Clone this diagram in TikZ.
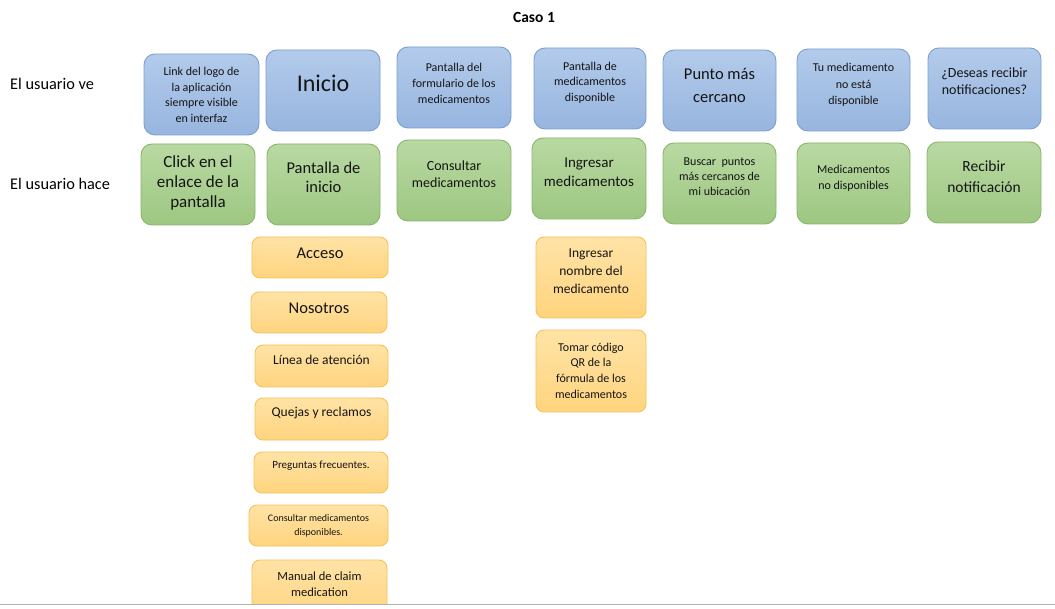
\documentclass[tikz,border=0pt]{standalone}
\usepackage{fontspec}
\setmainfont{Carlito}
\definecolor{bluetop}{HTML}{B3CBEB}
\definecolor{bluebot}{HTML}{97B5DF}
\definecolor{blueline}{HTML}{7A9FD0}
\definecolor{greentop}{HTML}{B9D9A3}
\definecolor{greenbot}{HTML}{9DC781}
\definecolor{greenline}{HTML}{8AB56C}
\definecolor{orangetop}{HTML}{FFE3A6}
\definecolor{orangebot}{HTML}{FFD47E}
\definecolor{orangeline}{HTML}{F5C25A}
\newcommand\fs[2]{\fontsize{#1}{#2}\selectfont}
\tikzset{
  boxbase/.style={inner sep=0pt, outer sep=0pt, line width=0.9pt},
  bluebox/.style={boxbase, rounded corners=11pt, draw=blueline, top color=bluetop, bottom color=bluebot},
  greenbox/.style={boxbase, rounded corners=11pt, draw=greenline, top color=greentop, bottom color=greenbot},
  orangebox/.style={boxbase, rounded corners=8pt, draw=orangeline, top color=orangetop, bottom color=orangebot},
  boxtext/.style={inner sep=0pt, align=center, text=black!92},
}
% #1 style, #2 name, #3 x1, #4 y1, #5 x2, #6 y2, #7 text centre y, #8 font, #9 text
\newcommand\bx[9]{%
  \node[#1, minimum width={(#5-#3)*1pt}, minimum height={(#6-#4)*1pt}] (#2) at ({(#3+#5)/2},{(#4+#6)/2}) {};
  \node[boxtext, font=#8] (#2t) at ({(#3+#5)/2},#7) {#9};
}
\begin{document}
\begin{tikzpicture}[x=1pt,y=-1pt]
\useasboundingbox (0,0) rectangle (1055,609);
\fill[white] (0,0) rectangle (1055,609);

\node[font=\fs{15.5}{18}\bfseries] (title) at (534,17) {Caso 1};
\node[anchor=west, inner sep=0pt, font=\fs{16.3}{19}] (lve) at (10,84) {El usuario ve};
\node[anchor=west, inner sep=0pt, font=\fs{16.3}{19}] (lhace) at (10,184) {El usuario hace};

% row 1
\bx{bluebox}{b1}{144}{54}{259}{135}{95}{\fs{12}{15.5}}{Link del logo de\\la aplicación\\siempre visible\\en interfaz}
\bx{bluebox}{b2}{266}{50}{380}{131}{83}{\fs{24}{27}}{Inicio}
\bx{bluebox}{b3}{397}{47}{511}{128}{83}{\fs{12}{16}}{Pantalla del\\formulario de los\\medicamentos}
\bx{bluebox}{b4}{534}{48}{646}{129}{82.5}{\fs{12}{15.5}}{Pantalla de\\medicamentos\\disponible}
\bx{bluebox}{b5}{663}{50}{776}{131}{85}{\fs{16.5}{23}}{Punto más\\cercano}
\bx{bluebox}{b6}{797}{49}{910}{131}{85}{\fs{12}{16.5}}{Tu medicamento\\no está\\disponible}
\bx{bluebox}{b7}{928}{48}{1041}{129}{81.5}{\fs{14}{17}}{¿Deseas recibir\\notificaciones?}

% row 2
\bx{greenbox}{g1}{141}{144}{255}{225}{183}{\fs{17}{20}}{Click en el\\enlace de la\\pantalla}
\bx{greenbox}{g2}{267}{144}{380}{225}{177.5}{\fs{16.5}{19.5}}{Pantalla de\\inicio}
\bx{greenbox}{g3}{397}{140}{511}{221}{174}{\fs{14}{16.5}}{Consultar\\medicamentos}
\bx{greenbox}{g4}{532}{138}{646}{219}{172.5}{\fs{15}{19}}{Ingresar\\medicamentos}
\bx{greenbox}{g5}{663}{143}{776}{224}{177}{\fs{12}{15}}{Buscar\ \ puntos\\más cercanos de\\mi ubicación}
\bx{greenbox}{g6}{797}{143}{910}{224}{178}{\fs{12}{15.7}}{Medicamentos\\no disponibles}
\bx{greenbox}{g7}{927}{142}{1041}{223}{176.5}{\fs{15.5}{20.5}}{Recibir\\notificación}

% orange column 1
\begin{scope}
\clip (0,0) rectangle (1055,603);
\bx{orangebox}{o1}{252}{237}{388}{278}{253}{\fs{16.5}{19}}{Acceso}
\bx{orangebox}{o2}{251}{292}{387}{333}{308}{\fs{16.5}{19}}{Nosotros}
\bx{orangebox}{o3}{255}{345}{388}{387}{360}{\fs{13.5}{16}}{Línea de atención}
\bx{orangebox}{o4}{255}{398}{388}{440}{413}{\fs{13.5}{16}}{Quejas y reclamos}
\bx{orangebox}{o5}{254}{452}{388}{493}{466}{\fs{11}{13}}{Preguntas frecuentes.}
\bx{orangebox}{o6}{249}{505}{388}{546}{526}{\fs{10}{14}}{Consultar medicamentos\\disponibles.}
\bx{orangebox}{o7}{252}{560}{387}{620}{584}{\fs{12.5}{16}}{Manual de claim\\medication}
\end{scope}

% orange column 2
\bx{orangebox}{p1}{536}{237}{646}{318}{271}{\fs{13.5}{17.8}}{Ingresar\\nombre del\\medicamento}
\bx{orangebox}{p2}{536}{330}{646}{412}{370.5}{\fs{12}{15.7}}{Tomar código\\QR de la\\fórmula de los\\medicamentos}

% bottom rule
\coordinate (rl) at (0,604.5);
\coordinate (rr) at (1055,604.5);
\draw[black!30, line width=1.4pt] (rl) -- (rr);
\end{tikzpicture}
\end{document}
